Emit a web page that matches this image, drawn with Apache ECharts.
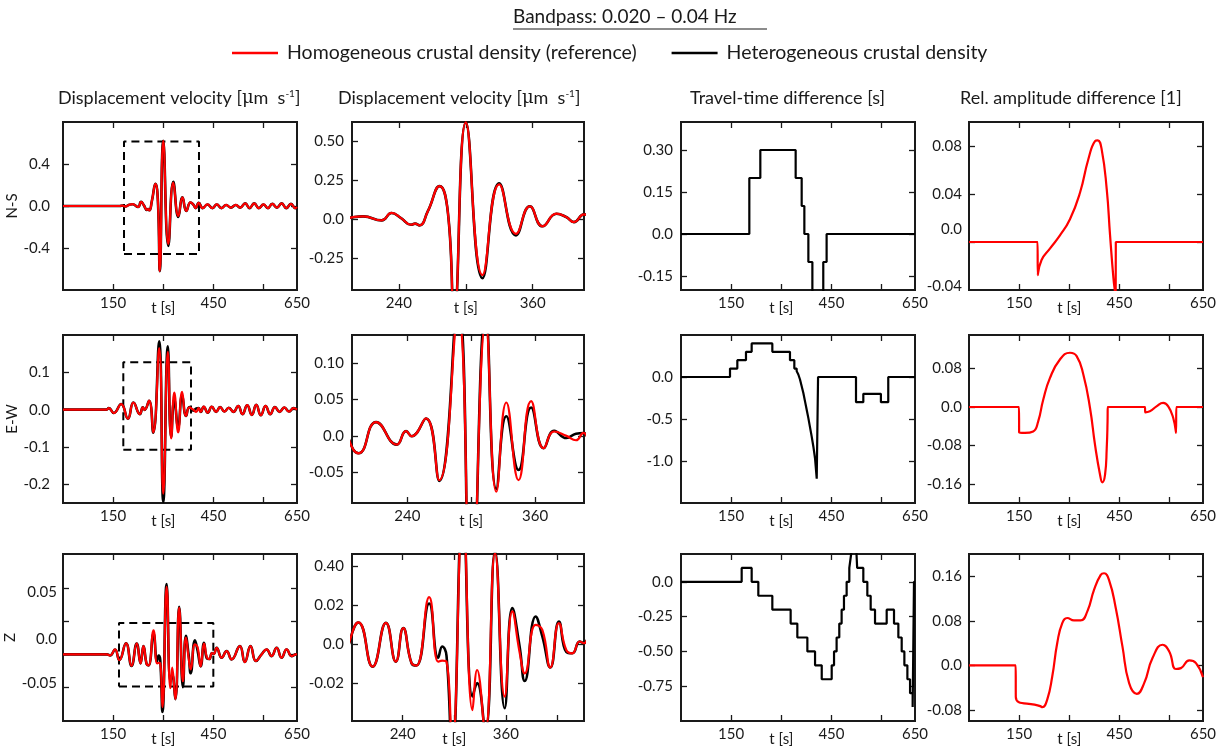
<!DOCTYPE html>
<html>
<head>
<meta charset="utf-8">
<title>Bandpass 0.020 - 0.04 Hz</title>
<script src="https://cdn.jsdelivr.net/npm/echarts@6/dist/echarts.min.js"></script>
<style>
  html, body { margin: 0; background: #fff; }
  #chart { width: 1224px; height: 748px; }
</style>
</head>
<body>
<div id="chart"></div>
<script>
// ---- waveforms: displacement velocity (N-S, E-W, Z) ----
const nsTime = [0, 170, 178, 186, 198, 208, 224.6, 233.5, 242, 251, 254.5, 258.5, 266, 276.5, 284, 289.5, 300, 315, 330, 345, 357.4, 368.8, 381.3, 390, 397, 406, 418, 432, 447, 460, 474, 488, 502, 517, 530, 545, 558, 572, 586, 600, 613, 626, 640, 654, 668, 682, 695, 700];
const nsRed = [0, 0, 0.004, -0.004, 0.011, 0.017, -0.009, 0.039, 0.006, -0.037, -0.03, -0.041, 0.05, 0.211, 0.04, -0.62, 0.62, -0.36, 0.222, -0.095, 0.082, -0.047, 0.034, 0.013, -0.02, 0.03, -0.02, 0.015, -0.02, 0.015, -0.02, 0.01, -0.015, 0.01, -0.015, 0.025, -0.02, 0.025, -0.02, 0.015, -0.02, 0.02, -0.015, 0.025, -0.02, 0.02, -0.02, -0.01];
const nsBlack = [0, 0, 0.004, -0.004, 0.011, 0.017, -0.009, 0.039, 0.006, -0.037, -0.03, -0.041, 0.05, 0.211, 0.04, -0.62, 0.62, -0.38, 0.23, -0.105, 0.082, -0.047, 0.034, 0.013, -0.02, 0.03, -0.02, 0.015, -0.02, 0.015, -0.02, 0.01, -0.015, 0.01, -0.015, 0.025, -0.02, 0.025, -0.02, 0.015, -0.02, 0.02, -0.015, 0.025, -0.02, 0.02, -0.02, -0.01];
const nsBoxTime = [182.5, 406.8];
const nsBoxValue = [-0.457, 0.614];

const ewTime = [0, 130, 137, 152, 174, 194.2, 210.7, 230, 238.8, 244, 257.5, 270, 287.6, 300, 313.6, 323.6, 333, 344.5, 356.3, 368.1, 378, 389.5, 398.5, 405.6, 412, 421, 433, 445, 458, 470, 483, 496, 510, 524, 537, 551, 565, 578, 592, 606, 620, 634, 648, 662, 676, 690, 700];
const ewRed = [0, 0, 0.004, -0.009, 0.015, -0.024, 0.019, -0.012, 0.0065, -0.0005, 0.024, -0.061, 0.165, -0.225, 0.155, -0.077, 0.046, -0.061, 0.048, -0.017, 0.006, 0.0, -0.006, 0.004, -0.006, 0.008, -0.008, 0.008, -0.006, 0.007, -0.005, 0.005, -0.006, 0.01, -0.012, 0.012, -0.014, 0.013, -0.015, 0.01, -0.012, 0.007, -0.006, 0.006, -0.005, 0.004, 0.0];
const ewBlack = [0, 0, 0.004, -0.009, 0.015, -0.024, 0.019, -0.012, 0.0065, -0.0005, 0.024, -0.062, 0.183, -0.247, 0.17, -0.073, 0.027, -0.047, 0.039, -0.017, 0.007, -0.003, 0.003, 0.004, -0.006, 0.008, -0.008, 0.008, -0.006, 0.007, -0.005, 0.005, -0.006, 0.01, -0.012, 0.012, -0.014, 0.013, -0.015, 0.01, -0.012, 0.007, -0.006, 0.006, -0.005, 0.004, 0.0];
const ewBoxTime = [180.4, 382.9];
const ewBoxValue = [-0.1075, 0.127];

const zTime = [0, 131, 141, 155.6, 168.5, 188.4, 205, 220.5, 232, 240.6, 250.3, 256, 270.8, 281.3, 286, 291, 297.5, 310, 321.2, 326.6, 336, 347.5, 358.7, 367.6, 376, 382, 394.7, 402.5, 411.8, 421.8, 430.4, 437.4, 445.9, 451, 459.6, 474.6, 489.5, 504.5, 529, 544, 561, 577, 594, 609, 624, 639, 654, 669, 684, 697, 700];
const zRed = [0, 0, -0.001, 0.005, -0.0057, 0.0112, -0.0116, 0.011, -0.009, 0.0083, -0.0098, -0.011, 0.0243, -0.009, -0.0085, -0.009, -0.053, 0.068, -0.034, -0.0133, -0.045, 0.047, -0.027, 0.0169, -0.004, -0.015, 0.010, 0.0074, -0.012, 0.0109, -0.003, -0.0047, 0.0014, 0.0005, 0.0067, -0.0033, 0.0033, -0.005, 0.0083, -0.0077, 0.0083, -0.0067, 0.0, 0.005, -0.0017, 0.0067, -0.0033, 0.005, -0.0017, 0.0, 0.0];
const zBlack = [0, 0, -0.001, 0.005, -0.0057, 0.0112, -0.0116, 0.011, -0.009, 0.0083, -0.0098, -0.011, 0.021, -0.007, -0.0012, -0.006, -0.058, 0.0707, -0.027, -0.02, -0.045, 0.048, -0.033, 0.0186, -0.001, -0.019, 0.0143, 0.004, -0.012, 0.0117, -0.004, -0.0047, 0.0014, 0.0005, 0.0067, -0.0033, 0.0033, -0.005, 0.0083, -0.0077, 0.0083, -0.0067, 0.0, 0.005, -0.0017, 0.0067, -0.0033, 0.005, -0.0017, 0.0, 0.0];
const zBoxTime = [167.5, 449.7];
const zBoxValue = [-0.0323, 0.0317];

// ---- travel-time difference: level starts at each time ----
const ttNsStart = [0, 204.4, 237.3, 343, 361, 369, 381, 393, 425.6, 435.6, 700];
const ttNsLevel = [0, 0.2, 0.3, 0.2, 0.1, 0.0, -0.1, -0.4, -0.1, 0, 0];
const ttEwStart = [0, 146.6, 168.5, 194.4, 211.4, 273.2, 326, 339, 346, 351, 356, 361, 366, 371, 376, 381, 386, 391, 396, 401, 406, 410, 523.5, 545.4, 598, 620, 700];
const ttEwLevel = [0, 0.1, 0.2, 0.3, 0.4, 0.3, 0.2, 0.1, 0.07, 0.03, -0.03, -0.11, -0.19, -0.29, -0.39, -0.49, -0.6, -0.71, -0.83, -0.97, -1.21, 0, -0.3, -0.2, -0.3, 0, 0];
const ttZStart = [0, 181.5, 211.4, 231.3, 273.2, 328, 348, 378, 401, 421, 450.8, 457.8, 465.5, 473.5, 480.5, 487.5, 495.5, 503.5, 509, 512, 525, 527, 545.4, 557.4, 567.4, 580.4, 615.3, 637.2, 650.2, 660.2, 668.2, 677.2, 685.2, 693, 697, 700];
const ttZLevel = [0, 0.1, 0, -0.1, -0.2, -0.3, -0.4, -0.5, -0.6, -0.7, -0.6, -0.5, -0.4, -0.3, -0.2, -0.1, 0, 0.1, 0.2, 0.3, 0.2, 0.1, 0, -0.1, -0.2, -0.3, -0.2, -0.3, -0.4, -0.5, -0.6, -0.7, -0.8, -0.9, 0, 0];

// ---- relative amplitude difference ----
const ampNsTime = [0, 200, 205.2, 205.6, 217, 242, 272, 302, 332, 357, 377, 385, 397, 412, 422, 432, 437, 438.8, 439.2, 445, 700];
const ampNsValue = [0, 0, 0, -0.0276, -0.015, -0.0055, 0.0055, 0.019, 0.041, 0.069, 0.084, 0.0847, 0.077, 0.044, 0.0055, -0.03, -0.042, -0.045, 0, 0, 0];
const ampEwTime = [0, 145, 149.6, 150, 167, 192, 207, 222, 242, 272, 302, 322, 342, 362, 377, 392, 399, 407, 412, 414.5, 415, 420, 522, 526.5, 527, 541, 561, 581, 596, 611, 619.5, 620, 625, 700];
const ampEwValue = [0, 0, 0, -0.053, -0.054, -0.051, -0.03, 0.015, 0.06, 0.099, 0.113, 0.106, 0.0675, -0.002, -0.079, -0.141, -0.157, -0.141, -0.086, -0.03, 0, 0, 0, 0, -0.011, -0.009, 0.0014, 0.0084, 0.0014, -0.023, -0.054, 0, 0, 0];
const ampZTime = [0, 135, 139.7, 140, 213, 219.4, 234, 249, 264, 279, 294, 314, 334, 354, 374, 394, 404, 419, 439, 459, 479, 502, 524, 549, 579, 599, 619, 634, 659, 679, 700];
const ampZValue = [0, 0, 0, -0.0567, -0.0733, -0.0752, -0.0615, -0.02, 0.04, 0.0758, 0.085, 0.0806, 0.0806, 0.097, 0.1355, 0.1624, 0.1654, 0.153, 0.103, 0.034, -0.032, -0.0513, -0.032, 0.013, 0.037, 0.025, -0.0066, -0.005, 0.009, 0.004, -0.0215];

// ---- labels ----
const componentNames = ['N-S', 'E-W', 'Z'];
const NAME_HOMO = 'Homogeneous crustal density (reference)';
const NAME_HETERO = 'Heterogeneous crustal density';
const zoomTimeLabels = [[240, '240'], [300, 't [s]'], [360, '360']];
const fullTimeLabels = [[150, '150'], [300, 't [s]'], [450, '450'], [700, '650']];

// ---- axis setup per panel ----
const FONT = 'Lato, "DejaVu Sans", sans-serif';
const INK = '#1a1a1a';
const RED = '#ff0000';
const colEdges = [[63, 297], [352, 584], [681, 915], [969, 1203]];
const rowEdges = [[122, 290], [335, 503], [554, 721]];

const fullX = { min: 0, max: 700, ticks: [150, 300, 450, 600], labels: fullTimeLabels };
const zoomX = [
  { min: 198, max: 406, ticks: [240, 300, 360], labels: zoomTimeLabels },
  { min: 188, max: 406, ticks: [240, 300, 360], labels: zoomTimeLabels },
  { min: 181, max: 451, ticks: [240, 300, 360, 420], labels: zoomTimeLabels }
];
const yCfg = [
  [
    { min: -0.8, max: 0.8, ticks: [-0.4, 0, 0.4], labels: [[0.4, '0.4'], [0, '0.0'], [-0.4, '-0.4']], margin: 13 },
    { min: -0.456, max: 0.623, ticks: [-0.25, 0, 0.25, 0.5], labels: [[0.5, '0.50'], [0.25, '0.25'], [0, '0.0'], [-0.25, '-0.25']], margin: 8 },
    { min: -0.2, max: 0.4, ticks: [-0.15, 0, 0.15, 0.3], labels: [[0.3, '0.30'], [0.15, '0.15'], [0, '0.0'], [-0.15, '-0.15']], margin: 8 },
    { min: -0.04, max: 0.1, ticks: [0, 0.04, 0.08], labels: [[0.08, '0.08'], [0.04, '0.04'], [0.011, '0.0'], [-0.037, '-0.04']], margin: 7 }
  ],
  [
    { min: -0.25, max: 0.2, ticks: [-0.2, -0.1, 0, 0.1], labels: [[0.1, '0.1'], [0, '0.0'], [-0.1, '-0.1'], [-0.2, '-0.2']], margin: 13 },
    { min: -0.0925, max: 0.139, ticks: [-0.05, 0, 0.05, 0.1], labels: [[0.1, '0.10'], [0.05, '0.05'], [0, '0.0'], [-0.05, '-0.05']], margin: 8 },
    { min: -1.5, max: 0.5, ticks: [-1, -0.5, 0], labels: [[0, '0.0'], [-0.5, '-0.5'], [-1, '-1.0']], margin: 8 },
    { min: -0.2, max: 0.15, ticks: [-0.16, -0.08, 0, 0.08], labels: [[0.08, '0.08'], [0, '0.0'], [-0.08, '-0.08'], [-0.16, '-0.16']], margin: 7 }
  ],
  [
    { min: -0.067, max: 0.101, ticks: [-0.0333, 0, 0.0333, 0.0667], labels: [[0.063, '0.05'], [0.0157, '0.0'], [-0.029, '-0.05']], margin: 6 },
    { min: -0.0396, max: 0.0465, ticks: [-0.02, 0, 0.02, 0.04], labels: [[0.04, '0.40'], [0.02, '0.02'], [0, '0.0'], [-0.02, '-0.02']], margin: 8 },
    { min: -1.0, max: 0.2, ticks: [-0.75, -0.5, -0.25, 0], labels: [[0, '0.0'], [-0.25, '-0.25'], [-0.5, '-0.50'], [-0.75, '-0.75']], margin: 8 },
    { min: -0.1, max: 0.2, ticks: [-0.08, 0, 0.08, 0.16], labels: [[0.16, '0.16'], [0.08, '0.08'], [0, '0.0'], [-0.08, '-0.08']], margin: 7 }
  ]
];

function xy(t, v) {
  return t.map((x, i) => [x, v[i]]);
}
function boxPath(t, v) {
  return [[t[0], v[0]], [t[1], v[0]], [t[1], v[1]], [t[0], v[1]], [t[0], v[0]]];
}
function lookup(labels) {
  return function (value) {
    const hit = labels.find((l) => Math.abs(l[0] - value) < 1e-6);
    if (!hit) return '';
    return hit[1] === 't [s]' ? '{t|t [s]}' : hit[1];
  };
}

const grids = [];
const xAxes = [];
const yAxes = [];
const series = [];

const tickStyle = { show: true, inside: true, length: 6, lineStyle: { color: INK, width: 1.3 } };
const labelFont = { color: INK, fontSize: 15, fontFamily: FONT };

for (let r = 0; r < 3; r++) {
  for (let c = 0; c < 4; c++) {
    const g = grids.length;
    const [x0, x1] = colEdges[c];
    const [y0, y1] = rowEdges[r];
    grids.push({
      left: x0, top: y0, width: x1 - x0, height: y1 - y0,
      show: true, borderColor: INK, borderWidth: 2, backgroundColor: 'transparent'
    });
    const xc = c === 1 ? zoomX[r] : fullX;
    const yc = yCfg[r][c];
    const xBase = {
      type: 'value', gridIndex: g, min: xc.min, max: xc.max,
      axisLine: { show: false, onZero: false }, splitLine: { show: false },
      axisTick: Object.assign({ customValues: xc.ticks }, tickStyle)
    };
    xAxes.push(Object.assign({}, xBase, {
      position: 'bottom',
      axisLabel: Object.assign({
        customValues: xc.labels.map((l) => l[0]), margin: 6, formatter: lookup(xc.labels),
        rich: { t: { fontSize: 15, fontFamily: FONT, color: INK, padding: [5, 0, 0, 0] } }
      }, labelFont)
    }));
    xAxes.push(Object.assign({}, xBase, { position: 'top', axisLabel: { show: false } }));
    const yBase = {
      type: 'value', gridIndex: g, min: yc.min, max: yc.max,
      axisLine: { show: false, onZero: false }, splitLine: { show: false },
      axisTick: Object.assign({ customValues: yc.ticks }, tickStyle)
    };
    const yLeft = Object.assign({}, yBase, {
      position: 'left',
      axisLabel: Object.assign({
        customValues: yc.labels.map((l) => l[0]), margin: yc.margin, formatter: lookup(yc.labels)
      }, labelFont)
    });
    if (c === 0) {
      Object.assign(yLeft, {
        name: componentNames[r], nameLocation: 'middle', nameGap: 35,
        nameTextStyle: { fontSize: 15, color: INK, fontFamily: FONT }
      });
    }
    yAxes.push(yLeft);
    yAxes.push(Object.assign({}, yBase, { position: 'right', axisLabel: { show: false } }));
  }
}

function lineSeries(g, name, data, color, width, extra) {
  return Object.assign({
    type: 'line', name: name, xAxisIndex: 2 * g, yAxisIndex: 2 * g, data: data,
    symbol: 'none', lineStyle: { color: color, width: width }, itemStyle: { color: color },
    clip: true, silent: true
  }, extra || {});
}

const waves = [
  { t: nsTime, red: nsRed, black: nsBlack, boxT: nsBoxTime, boxV: nsBoxValue },
  { t: ewTime, red: ewRed, black: ewBlack, boxT: ewBoxTime, boxV: ewBoxValue },
  { t: zTime, red: zRed, black: zBlack, boxT: zBoxTime, boxV: zBoxValue }
];
const travel = [[ttNsStart, ttNsLevel], [ttEwStart, ttEwLevel], [ttZStart, ttZLevel]];
const amps = [[ampNsTime, ampNsValue], [ampEwTime, ampEwValue], [ampZTime, ampZValue]];
const smoothOpt = { smooth: 0.5 };

for (let r = 0; r < 3; r++) {
  const w = waves[r];
  for (let c = 0; c < 2; c++) {
    const g = r * 4 + c;
    series.push(lineSeries(g, NAME_HETERO, xy(w.t, w.black), '#000', 2.6, smoothOpt));
    if (c === 0) {
      series.push(lineSeries(g, 'zoom window', boxPath(w.boxT, w.boxV), '#000', 2,
        { lineStyle: { color: '#000', width: 2, type: [8, 5] } }));
    }
    series.push(lineSeries(g, NAME_HOMO, xy(w.t, w.red), RED, 2.2, smoothOpt));
  }
  series.push(lineSeries(r * 4 + 2, 'travel-time difference', xy(travel[r][0], travel[r][1]), '#000', 2.2, { step: 'end' }));
  series.push(lineSeries(r * 4 + 3, 'relative amplitude difference', xy(amps[r][0], amps[r][1]), RED, 2.2, smoothOpt));
}

const titleFont = { fontSize: 18, fontWeight: 'normal', color: INK, fontFamily: FONT };
const supRich = {
  sup: { fontSize: 10, fontFamily: FONT, color: INK, verticalAlign: 'top', padding: [0, 0, 9, 0] },
  mu: { fontSize: 18, fontFamily: '"DejaVu Serif", serif', color: INK }
};
const velocityTitle = 'Displacement velocity [{mu|μ}m  s{sup|-1}]';

const option = {
  animation: false,
  backgroundColor: '#fff',
  textStyle: { fontFamily: FONT, color: INK },
  title: [
    { text: 'Bandpass: 0.020 – 0.04 Hz', left: 513, top: 7, padding: 0, textStyle: Object.assign({}, titleFont, { fontSize: 19 }) },
    { text: velocityTitle, left: 58, top: 89, padding: 0, textStyle: Object.assign({ rich: supRich }, titleFont) },
    { text: velocityTitle, left: 338, top: 89, padding: 0, textStyle: Object.assign({ rich: supRich }, titleFont) },
    { text: 'Travel-time difference [s]', left: 690, top: 89, padding: 0, textStyle: titleFont },
    { text: 'Rel. amplitude difference [1]', left: 960, top: 89, padding: 0, textStyle: titleFont }
  ],
  graphic: [
    { type: 'line', shape: { x1: 513, y1: 29, x2: 767, y2: 29 }, style: { stroke: INK, lineWidth: 1.2 } }
  ],
  legend: {
    data: [NAME_HOMO, NAME_HETERO],
    left: 232, top: 43, padding: 0,
    icon: 'rect', itemWidth: 46, itemHeight: 2.5, itemGap: 35,
    textStyle: { fontSize: 19.5, color: INK, fontFamily: FONT, padding: [0, 0, 0, 4] }
  },
  grid: grids,
  xAxis: xAxes,
  yAxis: yAxes,
  series: series
};

const chart = echarts.init(document.getElementById('chart'), null, { renderer: 'canvas' });
chart.setOption(option);
</script>
</body>
</html>
